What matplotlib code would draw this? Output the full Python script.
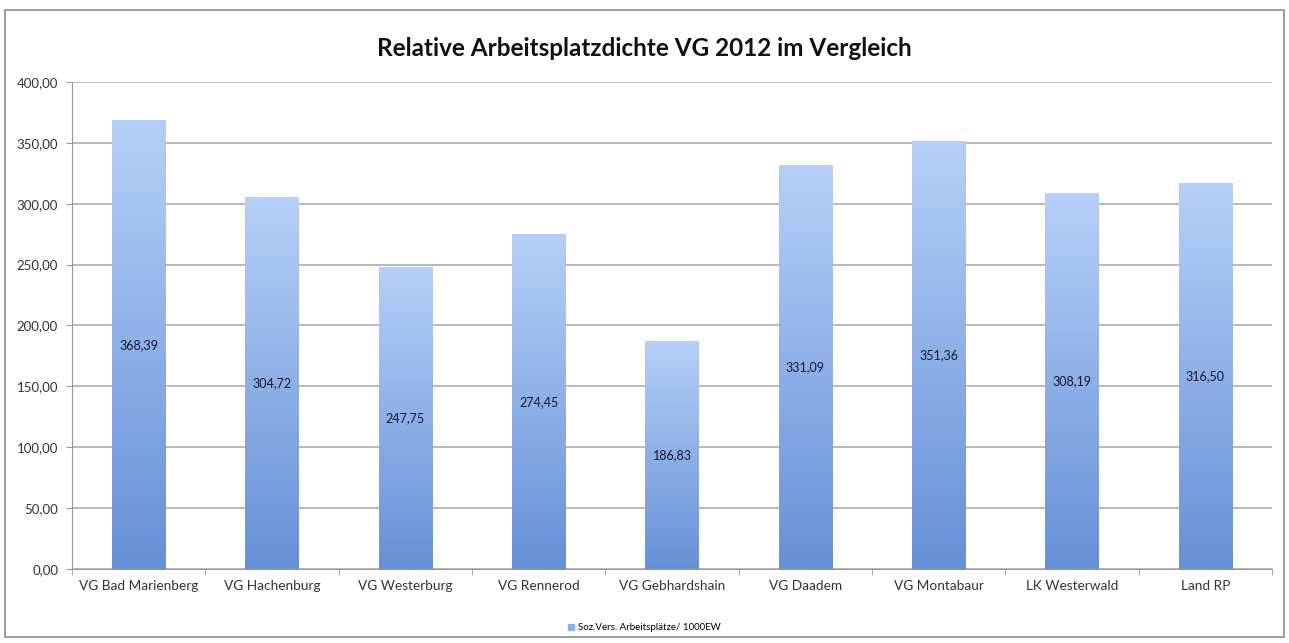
import numpy as np
import matplotlib
matplotlib.use("Agg")
import matplotlib.pyplot as plt
from matplotlib.colors import LinearSegmentedColormap
from matplotlib.patches import Rectangle

categories = ["VG Bad Marienberg", "VG Hachenburg", "VG Westerburg", "VG Rennerod",
              "VG Gebhardshain", "VG Daadem", "VG Montabaur", "LK Westerwald", "Land RP"]
values = [368.39, 304.72, 247.75, 274.45, 186.83, 331.09, 351.36, 308.19, 316.50]
yticks = [0, 50, 100, 150, 200, 250, 300, 350, 400]
series_name = "Soz.Vers. Arbeitsplätze/ 1000EW"

plt.rcParams['font.family'] = ['Lato', 'DejaVu Sans']

def de(v):
    return f"{v:.2f}".replace(".", ",")

fig = plt.figure(figsize=(12.89, 6.43), dpi=100)
fig.patches.append(Rectangle((0.004, 0.01), 0.992, 0.975, transform=fig.transFigure,
                             fill=False, edgecolor="#8c8c8c", linewidth=1.2))
ax = fig.add_axes([0.0559, 0.1151, 0.9309, 0.7574])

x = np.arange(len(categories))
bars = ax.bar(x, values, width=0.4, color="none", zorder=2)

cmap = LinearSegmentedColormap.from_list("bar", ["#6690d6", "#b6cff8"])
grad = np.linspace(0, 1, 256).reshape(-1, 1)
for b in bars:
    x0, w, h = b.get_x(), b.get_width(), b.get_height()
    ax.imshow(grad, cmap=cmap, origin="lower", aspect="auto",
              extent=(x0, x0 + w, 0, h), zorder=2)
    ax.text(x0 + w / 2, h / 2, de(h), ha="center", va="center", fontsize=9, color="#151a30", zorder=3)

ax.set_xlim(-0.5, len(categories) - 0.5)
ax.set_ylim(0, 400)
ax.set_yticks(yticks)
ax.set_yticklabels([de(v) for v in yticks], fontsize=9.5, color="#333333")
ax.set_xticks(x)
ax.set_xticklabels(categories, fontsize=9.8, color="#333333")
ax.tick_params(axis="x", length=0, pad=8)
ax.tick_params(axis="y", length=4, color="#999999", pad=6)
ax.set_xticks(np.arange(len(categories) + 1) - 0.5, minor=True)
ax.tick_params(axis="x", which="minor", length=4, color="#999999")

ax.yaxis.grid(True, color="#a6a6a6", linewidth=1.1, zorder=1)
ax.set_axisbelow(True)
for s in ["top", "right"]:
    ax.spines[s].set_visible(False)
ax.spines["left"].set_color("#999999")
ax.spines["bottom"].set_color("#999999")

fig.text(0.5, 0.925, "Relative Arbeitsplatzdichte VG 2012 im Vergleich",
         ha="center", va="center", fontsize=17.5, fontweight="bold", color="#111111")

handle = Rectangle((0, 0), 1, 1, color="#8eaeea")
fig.legend([handle], [series_name], loc="center", bbox_to_anchor=(0.5, 0.024),
           frameon=False, fontsize=7, handlelength=0.6, handleheight=0.6, handletextpad=0.4)

fig.savefig("out.png", dpi=100)
